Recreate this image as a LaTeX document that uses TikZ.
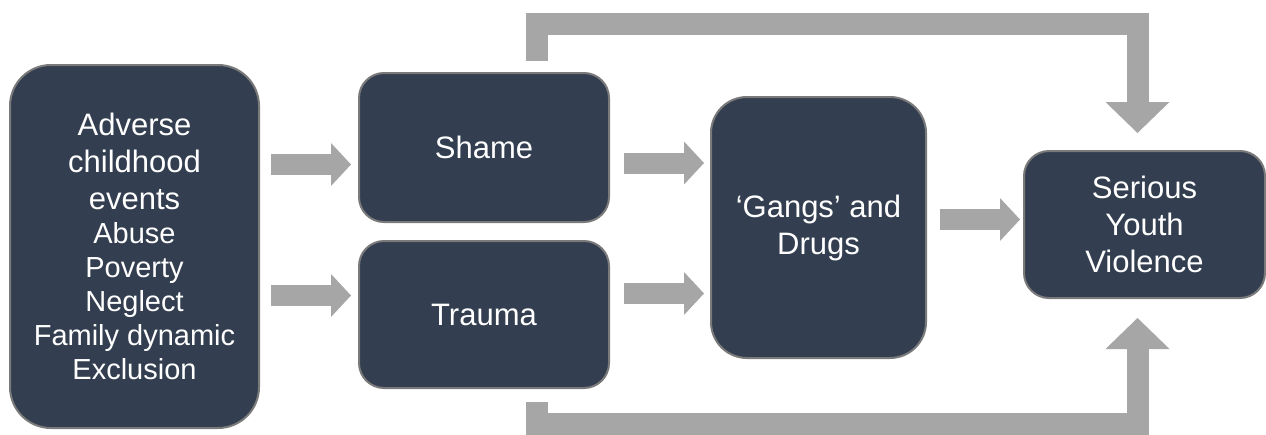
\documentclass[tikz,border=0pt]{standalone}
\usepackage{fontspec}
\setmainfont{Liberation Sans}
\usetikzlibrary{arrows.meta}
\definecolor{boxfill}{HTML}{333F50}
\definecolor{boxline}{HTML}{7A7A7A}
\definecolor{arrowgray}{HTML}{A6A6A6}
\begin{document}
\begin{tikzpicture}[x=1pt,y=-1pt,
  box/.style={draw=boxline, line width=2pt, fill=boxfill, text=white, inner sep=0pt,
    align=center, font=\fontsize{31}{37}\selectfont},
  barrow/.style={draw=arrowgray, line width=21pt,
    -{Triangle[length=20pt,width=43pt,line width=0pt]}},
  bigarrow/.style={draw=arrowgray, line width=22pt, line join=miter,
    -{Triangle[length=31pt,width=64pt,line width=0pt]}}
]
\useasboundingbox (0,0) rectangle (1266,434);

\node[box, rounded corners=41pt, minimum width=249pt, minimum height=363pt] (A) at (134.5,246.5)
  {Adverse\\childhood\\events\\[-3pt]
   {\fontsize{29}{34}\selectfont Abuse}\\[-3pt]
   {\fontsize{29}{34}\selectfont Poverty}\\[-3pt]
   {\fontsize{29}{34}\selectfont Neglect}\\[-3pt]
   {\fontsize{29}{34}\selectfont Family dynamic}\\[-3pt]
   {\fontsize{29}{34}\selectfont Exclusion}};
\node[box, rounded corners=25pt, minimum width=250pt, minimum height=149pt] (Shame) at (484,147.5) {Shame};
\node[box, rounded corners=25pt, minimum width=250pt, minimum height=147pt] (Trauma) at (484,314.5) {Trauma};
\node[box, rounded corners=36pt, minimum width=215pt, minimum height=261pt] (Gangs) at (818.5,227.5) {‘Gangs’ and\\Drugs};
\node[box, rounded corners=25pt, minimum width=241pt, minimum height=147pt] (Serious) at (1144.5,224.5) {Serious\\Youth\\Violence};

\coordinate (r1) at (0,164.5);
\coordinate (r2) at (0,295.5);
\coordinate (g1) at (0,163);
\coordinate (g2) at (0,293.5);
\coordinate (s1) at (0,219.5);
\coordinate (topL) at (537,24);
\coordinate (topR) at (1137.5,24);
\coordinate (botL) at (537,424);
\coordinate (botR) at (1137.5,424);

\draw[barrow] ([xshift=11pt]A.east |- r1) -- ([xshift=-7pt]Shame.west |- r1);
\draw[barrow] ([xshift=11pt]A.east |- r2) -- ([xshift=-7pt]Trauma.west |- r2);
\draw[barrow] ([xshift=14pt]Shame.east |- g1) -- ([xshift=-6pt]Gangs.west |- g1);
\draw[barrow] ([xshift=14pt]Trauma.east |- g2) -- ([xshift=-6pt]Gangs.west |- g2);
\draw[barrow] ([xshift=13pt]Gangs.east |- s1) -- ([xshift=-3pt]Serious.west |- s1);

\draw[bigarrow] ([yshift=11pt]topL |- Shame.north) -- (topL) -- (topR) -- ([yshift=17pt]topR |- Serious.north);
\draw[bigarrow] ([yshift=-13pt]botL |- Trauma.south) -- (botL) -- (botR) -- ([yshift=-19pt]botR |- Serious.south);
\end{tikzpicture}
\end{document}
